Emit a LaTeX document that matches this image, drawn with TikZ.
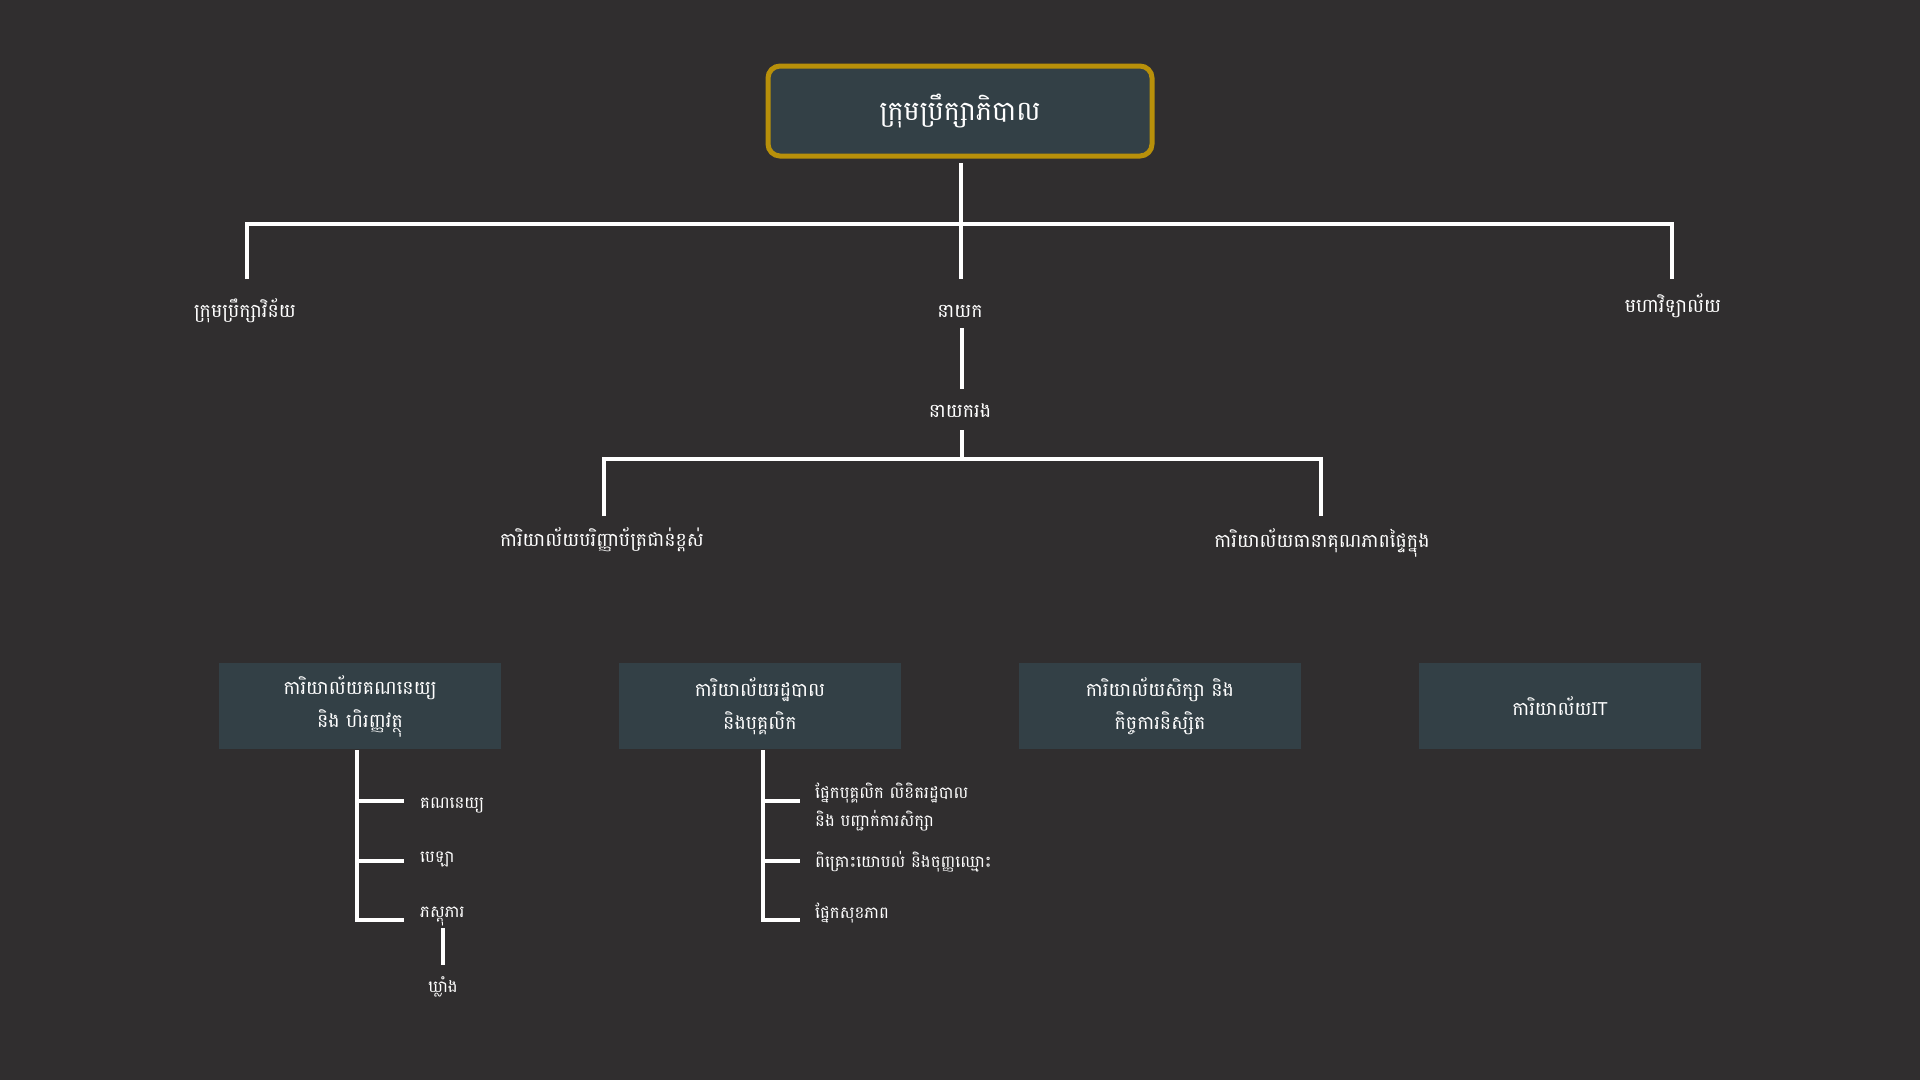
\documentclass[tikz,border=0pt]{standalone}
\usepackage{fontspec}
\setmainfont[Script=Khmer]{Battambang}
\newfontfamily\latinfont{Noto Sans}
\usetikzlibrary{positioning}
\definecolor{bg}{HTML}{302E2F}
\definecolor{boxfill}{HTML}{334046}
\definecolor{gold}{HTML}{B8900A}
\tikzset{
  conn/.style={draw=white, line width=3.8pt},
  topbox/.style={draw=gold, line width=5pt, fill=boxfill, rounded corners=12pt,
     minimum width=384pt, minimum height=90pt, text=white, font=\fontsize{27}{34}\selectfont},
  office/.style={fill=boxfill, minimum width=282pt, minimum height=86pt, text=white,
     align=center, font=\fontsize{19}{33}\selectfont, inner sep=0pt},
  lvl/.style={text=white, font=\fontsize{19}{24}\selectfont, inner sep=0pt},
  leaf/.style={text=white, font=\fontsize{16.5}{28}\selectfont, inner sep=0pt, anchor=west, align=left},
}
\begin{document}
\begin{tikzpicture}[x=1pt,y=-1pt]
\fill[bg] (0,0) rectangle (1920,1080);
\useasboundingbox (0,0) rectangle (1920,1080);

% top
\node[topbox] (top) at (960,111) {ក្រុមប្រឹក្សាភិបាល};

% level 1
\node[lvl] (disc) at (245,311) {ក្រុមប្រឹក្សាវិន័យ};
\node[lvl] (dir) at (960,311) {នាយក};
\node[lvl] (fac) at (1673,306) {មហាវិទ្យាល័យ};

\coordinate (t0) at (961,163);
\coordinate (j1) at (961,224);
\coordinate (jl) at (247,224);
\coordinate (jr) at (1672,224);
\coordinate (dl) at (247,279);
\coordinate (dm) at (961,279);
\coordinate (dr) at (1672,279);
\draw[conn] (t0) -- (dm);
\draw[conn] (dl) -- (jl) -- (jr) -- (dr);

% deputy
\node[lvl] (dep) at (960,411) {នាយករង};
\coordinate (d0) at (962,328);
\coordinate (d1) at (962,389);
\draw[conn] (d0) -- (d1);

% level 2
\node[lvl] (grad) at (602,540) {ការិយាល័យបរិញ្ញាប័ត្រជាន់ខ្ពស់};
\node[lvl] (qa) at (1322,543) {ការិយាល័យធានាគុណភាពផ្ទៃក្នុង};
\coordinate (e0) at (962,430);
\coordinate (e1) at (962,459);
\coordinate (el) at (604,459);
\coordinate (er) at (1321,459);
\coordinate (fl) at (604,516);
\coordinate (fr) at (1321,516);
\draw[conn] (e0) -- (e1);
\draw[conn] (fl) -- (el) -- (er) -- (fr);

% offices
\node[office] (acc) at (360,706) {ការិយាល័យគណនេយ្យ\\និង ហិរញ្ញវត្ថុ};
\node[office] (adm) at (760,706) {ការិយាល័យរដ្ឋបាល\\និងបុគ្គលិក};
\node[office] (stu) at (1160,706) {ការិយាល័យសិក្សា និង\\កិច្ចការនិស្សិត};
\node[office] (it) at (1560,706) {ការិយាល័យ{\latinfont\fontsize{18}{20}\selectfont IT}};

% subtree accounting
\node[leaf] (a1) at (420,806) {គណនេយ្យ};
\node[leaf] (a2) at (420,860) {បេឡា};
\node[leaf] (a3) at (420,916) {ភស្តុភារ};
\node[text=white, font=\fontsize{16.5}{20}\selectfont, inner sep=0pt] (a4) at (443,987) {ឃ្លាំង};
\coordinate (av) at (357,750);
\coordinate (ab1) at (357,801);
\coordinate (ab2) at (357,861);
\coordinate (ab3) at (357,920);
\coordinate (ae1) at (404,801);
\coordinate (ae2) at (404,861);
\coordinate (ae3) at (404,920);
\draw[conn] (av) -- (ab3) -- (ae3);
\draw[conn] (ab1) -- (ae1);
\draw[conn] (ab2) -- (ae2);
\coordinate (g0) at (443,928);
\coordinate (g1) at (443,965);
\draw[conn] (g0) -- (g1);

% subtree admin
\node[leaf] (b1) at (815,807) {ផ្នែកបុគ្គលិក លិខិតរដ្ឋបាល\\និង បញ្ជាក់ការសិក្សា};
\node[leaf] (b2) at (815,862) {ពិគ្រោះយោបល់ និងចុញ្ញឈ្មោះ};
\node[leaf] (b3) at (815,913) {ផ្នែកសុខភាព};
\coordinate (bv) at (763,750);
\coordinate (bb1) at (763,801);
\coordinate (bb2) at (763,861);
\coordinate (bb3) at (763,920);
\coordinate (be1) at (800,801);
\coordinate (be2) at (800,861);
\coordinate (be3) at (800,920);
\draw[conn] (bv) -- (bb3) -- (be3);
\draw[conn] (bb1) -- (be1);
\draw[conn] (bb2) -- (be2);
\end{tikzpicture}
\end{document}
